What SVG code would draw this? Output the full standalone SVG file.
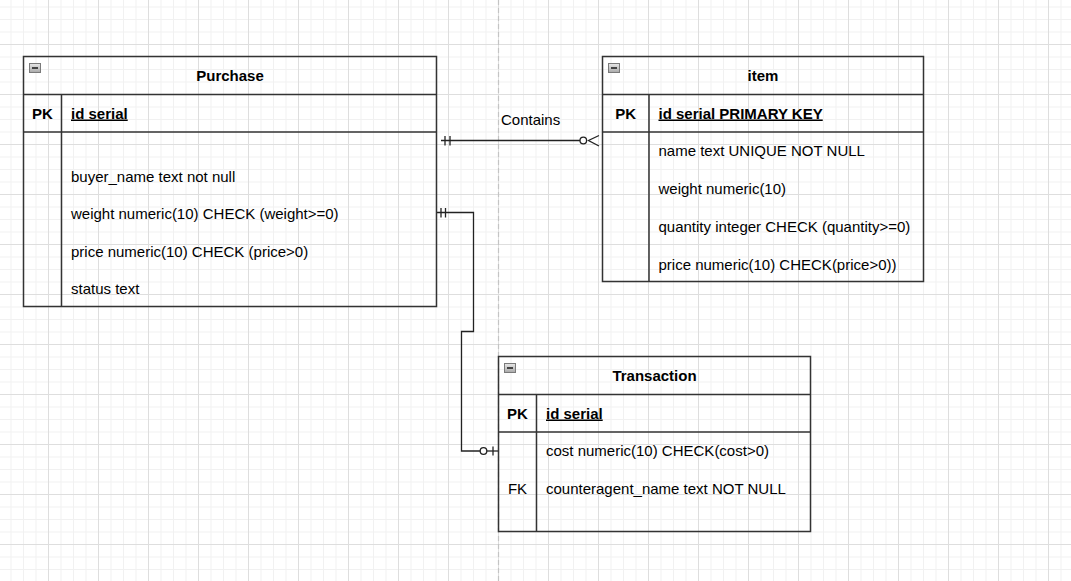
<svg xmlns="http://www.w3.org/2000/svg" width="1071" height="581" viewBox="0 0 1071 581">
<defs>
<pattern id="grid" x="48" y="44" width="50" height="50" patternUnits="userSpaceOnUse">
<path d="M13 0V50M25.5 0V50M38 0V50M0 13H50M0 25.5H50M0 38H50" stroke="#f1f1f1" stroke-width="1" fill="none"/>
<path d="M0.5 0V50M0 0.5H50" stroke="#dedede" stroke-width="1" fill="none"/>
</pattern>
<linearGradient id="ig" x1="0" y1="0" x2="0" y2="1">
<stop offset="0" stop-color="#e8e8e8"/>
<stop offset="1" stop-color="#a8a8a8"/>
</linearGradient>
<g id="minus">
<rect x="0.5" y="0.5" width="11" height="9" fill="url(#ig)" stroke="#7a7a7a" stroke-width="1"/>
<path d="M3 5H9" stroke="#222" stroke-width="1.6"/>
</g>
</defs>
<style>
.box{fill:none;stroke:#333;stroke-width:1.5}
.ln{fill:none;stroke:#333;stroke-width:1.5}
.t{font-family:"Liberation Sans",Arial,sans-serif;font-size:15px;fill:#000}
.h{font-weight:bold;text-anchor:middle}
.b{font-weight:bold}
.u{text-decoration:underline}
.c{text-anchor:middle}
.e{fill:none;stroke:#222;stroke-width:1.3}
</style>
<rect width="1071" height="581" fill="#fff"/>
<rect width="1071" height="581" fill="url(#grid)"/>
<path d="M498.5 0V581" stroke="#c4c4c4" stroke-width="1.2" stroke-dasharray="5 3" fill="none"/>

<g id="connectors">
<g id="purchase-item">
<path class="e" d="M441 140.5H580"/>
<path class="e" d="M445 136V145.5M450 136V145.5"/>
<circle class="e" cx="583.3" cy="140.5" r="3.3" fill="#fff"/>
<path class="e" d="M599 135.5L588.5 140.5L599 146"/>
<text class="t" x="501" y="125">Contains</text>
</g>
<g id="purchase-transaction">
<path class="e" d="M437 212.5H473.5V331.5H461.5V451H480"/>
<path class="e" d="M487 451H499"/>
<path class="e" d="M441 208V217.5M445.5 208V217.5"/>
<circle class="e" cx="483.5" cy="451" r="3.3" fill="#fff"/>
<path class="e" d="M493 446.5V455.5"/>
</g>
</g>

<g id="purchase">
<rect class="box" x="23.5" y="56.5" width="413" height="250"/>
<path class="ln" d="M23.5 94.5H436.5M23.5 132H436.5M61.5 94.5V306.5"/>
<use href="#minus" x="29" y="63"/>
<text class="t h" x="230" y="81">Purchase</text>
<text class="t b c" x="42.5" y="118.5">PK</text>
<text class="t b u" x="71" y="118.5">id serial</text>
<text class="t" x="71" y="181.5">buyer_name text not null</text>
<text class="t" x="71" y="219">weight numeric(10) CHECK (weight&gt;=0)</text>
<text class="t" x="71" y="256.5">price numeric(10) CHECK (price&gt;0)</text>
<text class="t" x="71" y="294">status text</text>
</g>

<g id="item">
<rect class="box" x="602.5" y="56.5" width="321" height="225"/>
<path class="ln" d="M602.5 94.5H923.5M602.5 132H923.5M649 94.5V281.5"/>
<use href="#minus" x="608" y="63"/>
<text class="t h" x="763" y="81">item</text>
<text class="t b c" x="625.75" y="118.5">PK</text>
<text class="t b u" x="658.5" y="118.5">id serial PRIMARY KEY</text>
<text class="t" x="658.5" y="156">name text UNIQUE NOT NULL</text>
<text class="t" x="658.5" y="194">weight numeric(10)</text>
<text class="t" x="658.5" y="231.5">quantity integer CHECK (quantity&gt;=0)</text>
<text class="t" x="658.5" y="269.5">price numeric(10) CHECK(price&gt;0))</text>
</g>

<g id="transaction">
<rect class="box" x="498.5" y="356.5" width="312" height="175"/>
<path class="ln" d="M498.5 394.5H810.5M498.5 432H810.5M536.5 394.5V531.5"/>
<use href="#minus" x="504" y="363"/>
<text class="t h" x="654.5" y="381">Transaction</text>
<text class="t b c" x="517.5" y="418.5">PK</text>
<text class="t b u" x="546" y="418.5">id serial</text>
<text class="t" x="546" y="456">cost numeric(10) CHECK(cost&gt;0)</text>
<text class="t c" x="517.5" y="494">FK</text>
<text class="t" x="546" y="494">counteragent_name text NOT NULL</text>
</g>
</svg>
